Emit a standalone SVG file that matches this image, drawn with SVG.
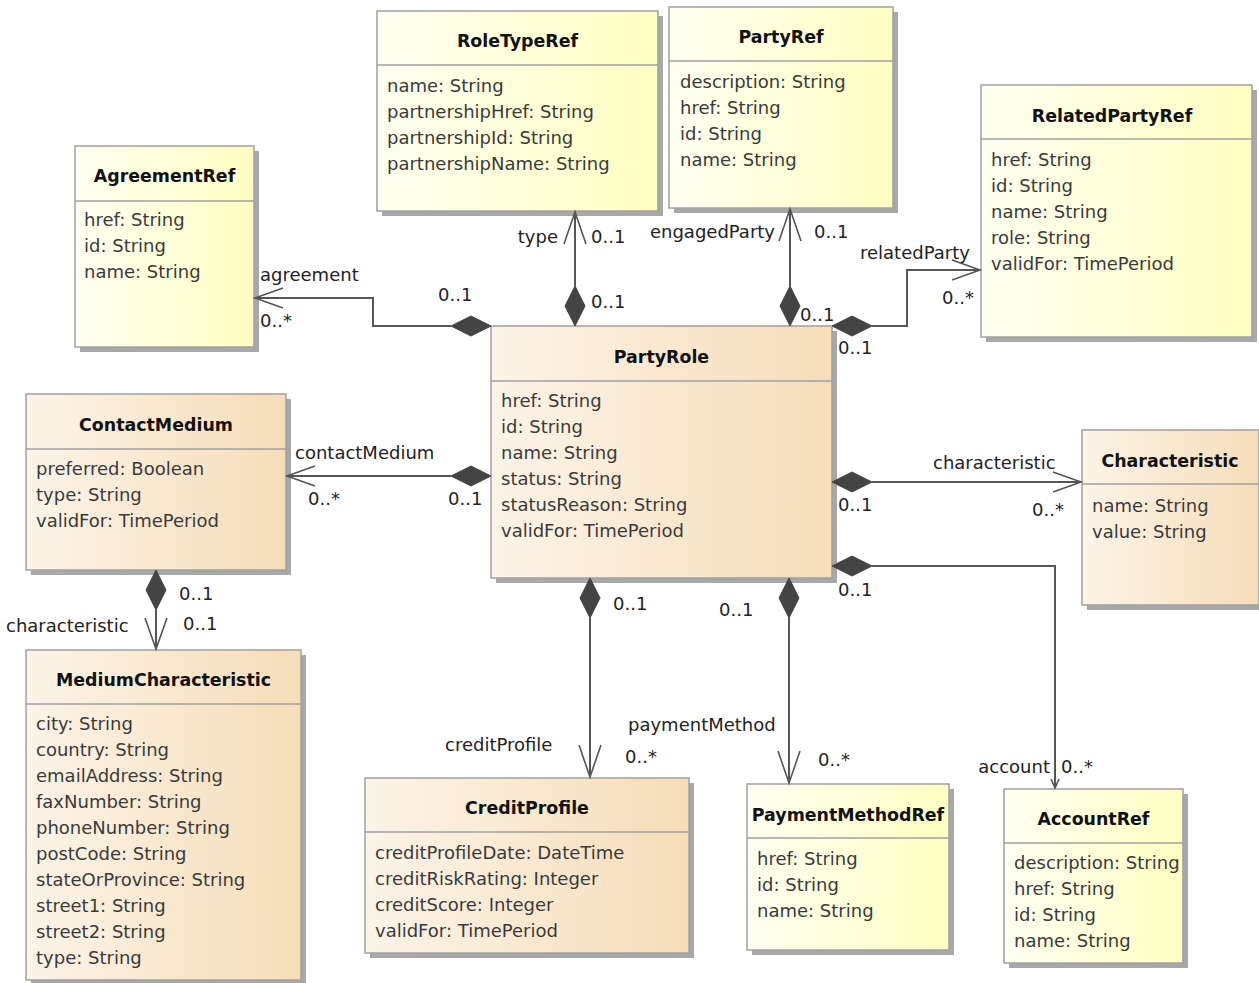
<svg xmlns="http://www.w3.org/2000/svg" width="1259" height="983" viewBox="0 0 1259 983">
<defs>
<linearGradient id="gy" x1="0" y1="0" x2="1" y2="0"><stop offset="0" stop-color="#FFFFF2"/><stop offset="1" stop-color="#FFFFC2"/></linearGradient>
<linearGradient id="go" x1="0" y1="0" x2="1" y2="0"><stop offset="0" stop-color="#FCF4E8"/><stop offset="1" stop-color="#F6DDB8"/></linearGradient>
</defs>
<style>
.sh{fill:#A8A8A8}
.by{fill:url(#gy);stroke:#A0A0A0;stroke-width:1.5}
.bo{fill:url(#go);stroke:#A0A0A0;stroke-width:1.5}
.sep{stroke:#A0A0A0;stroke-width:1.5}
.t{font-family:"DejaVu Sans",sans-serif;font-size:17.4px;font-weight:bold;fill:#111;text-anchor:middle}
.a{font-family:"DejaVu Sans",sans-serif;font-size:18px;fill:#3A3A3A}
.l{font-family:"DejaVu Sans",sans-serif;font-size:18px;fill:#222}
.ln{fill:none;stroke:#555;stroke-width:2}
.ar{fill:none;stroke:#555;stroke-width:1.6}
.dm{fill:#444;stroke:#444;stroke-width:1}
</style>
<rect width="1259" height="983" fill="#fff"/>

<g id="AgreementRef">
<rect class="sh" x="80" y="151" width="179" height="201"/>
<rect class="by" x="75" y="146" width="179" height="201"/>
<line class="sep" x1="75" y1="201" x2="254" y2="201"/>
<text class="t" x="164.5" y="182">AgreementRef</text>
<text class="a" x="84" y="226">href: String</text>
<text class="a" x="84" y="252">id: String</text>
<text class="a" x="84" y="278">name: String</text>
</g>

<g id="RoleTypeRef">
<rect class="sh" x="382" y="16" width="281" height="200"/>
<rect class="by" x="377" y="11" width="281" height="200"/>
<line class="sep" x1="377" y1="65" x2="658" y2="65"/>
<text class="t" x="517.5" y="47">RoleTypeRef</text>
<text class="a" x="387" y="92">name: String</text>
<text class="a" x="387" y="118">partnershipHref: String</text>
<text class="a" x="387" y="144">partnershipId: String</text>
<text class="a" x="387" y="170">partnershipName: String</text>
</g>

<g id="PartyRef">
<rect class="sh" x="674" y="12" width="224" height="201"/>
<rect class="by" x="669" y="7" width="224" height="201"/>
<line class="sep" x1="669" y1="61" x2="893" y2="61"/>
<text class="t" x="781" y="43">PartyRef</text>
<text class="a" x="680" y="88">description: String</text>
<text class="a" x="680" y="114">href: String</text>
<text class="a" x="680" y="140">id: String</text>
<text class="a" x="680" y="166">name: String</text>
</g>

<g id="RelatedPartyRef">
<rect class="sh" x="986" y="90" width="271" height="252"/>
<rect class="by" x="981" y="85" width="271" height="252"/>
<line class="sep" x1="981" y1="139" x2="1252" y2="139"/>
<text class="t" x="1112" y="122">RelatedPartyRef</text>
<text class="a" x="991" y="166">href: String</text>
<text class="a" x="991" y="192">id: String</text>
<text class="a" x="991" y="218">name: String</text>
<text class="a" x="991" y="244">role: String</text>
<text class="a" x="991" y="270">validFor: TimePeriod</text>
</g>

<g id="PartyRole">
<rect class="sh" x="496" y="331" width="341" height="252"/>
<rect class="bo" x="491" y="326" width="341" height="252"/>
<line class="sep" x1="491" y1="381" x2="832" y2="381"/>
<text class="t" x="661.5" y="363">PartyRole</text>
<text class="a" x="501" y="407">href: String</text>
<text class="a" x="501" y="433">id: String</text>
<text class="a" x="501" y="459">name: String</text>
<text class="a" x="501" y="485">status: String</text>
<text class="a" x="501" y="511">statusReason: String</text>
<text class="a" x="501" y="537">validFor: TimePeriod</text>
</g>

<g id="ContactMedium">
<rect class="sh" x="31" y="399" width="260" height="176"/>
<rect class="bo" x="26" y="394" width="260" height="176"/>
<line class="sep" x1="26" y1="449" x2="286" y2="449"/>
<text class="t" x="156" y="431">ContactMedium</text>
<text class="a" x="36" y="475">preferred: Boolean</text>
<text class="a" x="36" y="501">type: String</text>
<text class="a" x="36" y="527">validFor: TimePeriod</text>
</g>

<g id="Characteristic">
<rect class="sh" x="1087" y="435" width="177" height="175"/>
<rect class="bo" x="1082" y="430" width="177" height="175"/>
<line class="sep" x1="1082" y1="484" x2="1259" y2="484"/>
<text class="t" x="1170" y="467">Characteristic</text>
<text class="a" x="1092" y="512">name: String</text>
<text class="a" x="1092" y="538">value: String</text>
</g>

<g id="MediumCharacteristic">
<rect class="sh" x="31" y="655" width="275" height="335"/>
<rect class="bo" x="26" y="650" width="275" height="330"/>
<line class="sep" x1="26" y1="704" x2="301" y2="704"/>
<text class="t" x="163.5" y="686">MediumCharacteristic</text>
<text class="a" x="36" y="730">city: String</text>
<text class="a" x="36" y="756">country: String</text>
<text class="a" x="36" y="782">emailAddress: String</text>
<text class="a" x="36" y="808">faxNumber: String</text>
<text class="a" x="36" y="834">phoneNumber: String</text>
<text class="a" x="36" y="860">postCode: String</text>
<text class="a" x="36" y="886">stateOrProvince: String</text>
<text class="a" x="36" y="912">street1: String</text>
<text class="a" x="36" y="938">street2: String</text>
<text class="a" x="36" y="964">type: String</text>
</g>

<g id="CreditProfile">
<rect class="sh" x="370" y="783" width="324" height="175"/>
<rect class="bo" x="365" y="778" width="324" height="175"/>
<line class="sep" x1="365" y1="832" x2="689" y2="832"/>
<text class="t" x="527" y="814">CreditProfile</text>
<text class="a" x="375" y="859">creditProfileDate: DateTime</text>
<text class="a" x="375" y="885">creditRiskRating: Integer</text>
<text class="a" x="375" y="911">creditScore: Integer</text>
<text class="a" x="375" y="937">validFor: TimePeriod</text>
</g>

<g id="PaymentMethodRef">
<rect class="sh" x="752" y="789" width="202" height="166"/>
<rect class="by" x="747" y="784" width="202" height="166"/>
<line class="sep" x1="747" y1="838" x2="949" y2="838"/>
<text class="t" x="848" y="821">PaymentMethodRef</text>
<text class="a" x="757" y="865">href: String</text>
<text class="a" x="757" y="891">id: String</text>
<text class="a" x="757" y="917">name: String</text>
</g>

<g id="AccountRef">
<rect class="sh" x="1009" y="794" width="179" height="174"/>
<rect class="by" x="1004" y="789" width="179" height="174"/>
<line class="sep" x1="1004" y1="843" x2="1183" y2="843"/>
<text class="t" x="1093.5" y="825">AccountRef</text>
<text class="a" x="1014" y="869">description: String</text>
<text class="a" x="1014" y="895">href: String</text>
<text class="a" x="1014" y="921">id: String</text>
<text class="a" x="1014" y="947">name: String</text>
</g>

<g id="connectors">
<!-- agreement -->
<polyline class="ln" points="451,326 373,326 373,298 255,298"/>
<polygon class="dm" points="491,326 471,316 451,326 471,336"/>
<polyline class="ar" points="283,288 255,298 283,308"/>
<text class="l" x="260" y="281">agreement</text>
<text class="l" x="260" y="327">0..*</text>
<text class="l" x="438" y="301">0..1</text>
<!-- type -->
<line class="ln" x1="575" y1="286" x2="575" y2="212"/>
<polygon class="dm" points="575,326 565,306 575,286 585,306"/>
<polyline class="ar" points="564,244 575,212 586,244"/>
<text class="l" x="558" y="243" text-anchor="end">type</text>
<text class="l" x="591" y="243">0..1</text>
<text class="l" x="591" y="308">0..1</text>
<!-- engagedParty -->
<line class="ln" x1="790" y1="286" x2="790" y2="209"/>
<polygon class="dm" points="790,326 780,306 790,286 800,306"/>
<polyline class="ar" points="779,241 790,209 801,241"/>
<text class="l" x="775" y="238" text-anchor="end">engagedParty</text>
<text class="l" x="814" y="238">0..1</text>
<text class="l" x="800" y="321">0..1</text>
<!-- relatedParty -->
<polyline class="ln" points="872,326 907,326 907,270 980,270"/>
<polygon class="dm" points="832,326 852,316 872,326 852,336"/>
<polyline class="ar" points="952,260 980,270 952,280"/>
<text class="l" x="860" y="259">relatedParty</text>
<text class="l" x="942" y="304">0..*</text>
<text class="l" x="838" y="354">0..1</text>
<!-- contactMedium -->
<line class="ln" x1="451" y1="476" x2="287" y2="476"/>
<polygon class="dm" points="491,476 471,466 451,476 471,486"/>
<polyline class="ar" points="315,466 287,476 315,486"/>
<text class="l" x="295" y="459">contactMedium</text>
<text class="l" x="308" y="505">0..*</text>
<text class="l" x="448" y="505">0..1</text>
<!-- characteristic (PartyRole) -->
<line class="ln" x1="872" y1="482" x2="1081" y2="482"/>
<polygon class="dm" points="832,482 852,472 872,482 852,492"/>
<polyline class="ar" points="1053,472 1081,482 1053,492"/>
<text class="l" x="933" y="469">characteristic</text>
<text class="l" x="1032" y="516">0..*</text>
<text class="l" x="838" y="511">0..1</text>
<!-- account -->
<polyline class="ln" points="872,566 1055,566 1055,788"/>
<polygon class="dm" points="832,566 852,556 872,566 852,576"/>
<polyline class="ar" points="1051,779 1055,788 1059,779"/>
<text class="l" x="1050" y="773" text-anchor="end">account</text>
<text class="l" x="1061" y="773">0..*</text>
<text class="l" x="838" y="596">0..1</text>
<!-- creditProfile -->
<line class="ln" x1="590" y1="618" x2="590" y2="777"/>
<polygon class="dm" points="590,578 580,598 590,618 600,598"/>
<polyline class="ar" points="579,745 590,777 601,745"/>
<text class="l" x="445" y="751">creditProfile</text>
<text class="l" x="625" y="763">0..*</text>
<text class="l" x="613" y="610">0..1</text>
<!-- paymentMethod -->
<line class="ln" x1="789" y1="618" x2="789" y2="783"/>
<polygon class="dm" points="789,578 779,598 789,618 799,598"/>
<polyline class="ar" points="778,751 789,783 800,751"/>
<text class="l" x="628" y="731">paymentMethod</text>
<text class="l" x="818" y="766">0..*</text>
<text class="l" x="719" y="616">0..1</text>
<!-- ContactMedium characteristic -->
<line class="ln" x1="156" y1="610" x2="156" y2="649"/>
<polygon class="dm" points="156,570 146,590 156,610 166,590"/>
<polyline class="ar" points="145,618 156,649 167,618"/>
<text class="l" x="6" y="632">characteristic</text>
<text class="l" x="179" y="600">0..1</text>
<text class="l" x="183" y="630">0..1</text>
</g>
</svg>
